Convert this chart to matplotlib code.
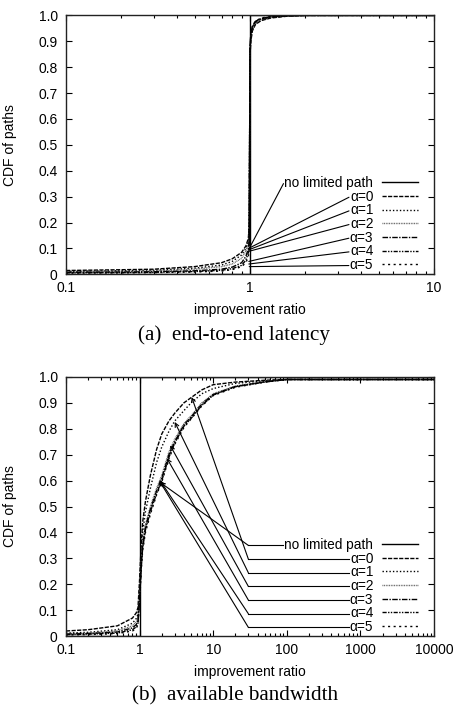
import matplotlib
matplotlib.use("Agg")
import matplotlib.pyplot as plt
from matplotlib.ticker import FixedLocator, LogLocator, NullFormatter

plt.rcParams['font.family'] = ['Liberation Sans', 'DejaVu Sans']

# ========== data: (a) end-to-end latency ==========
lat_x = [0.1, 0.2, 0.3, 0.5, 0.7, 0.8, 0.9, 0.95, 0.98, 0.99, 1.0, 1.01,
         1.03, 1.07, 1.15, 1.3, 1.6, 2.0, 3.0, 10.0]
lat_nolimit_x = [0.1, 1.0, 1.0, 10.0]
lat_nolimit_y = [0.0, 0.0, 1.0, 1.0]
lat_a0 = [0.015, 0.018, 0.02, 0.03, 0.045, 0.06, 0.085, 0.11, 0.14, 0.2, 0.84, 0.9,
          0.94, 0.965, 0.98, 0.99, 0.997, 1.0, 1.0, 1.0]
lat_a1 = [0.012, 0.014, 0.016, 0.024, 0.036, 0.05, 0.075, 0.1, 0.13, 0.18, 0.85, 0.91,
          0.945, 0.968, 0.982, 0.992, 0.998, 1.0, 1.0, 1.0]
lat_a2 = [0.01, 0.012, 0.013, 0.02, 0.03, 0.04, 0.062, 0.09, 0.12, 0.16, 0.86, 0.915,
          0.95, 0.97, 0.985, 0.993, 0.998, 1.0, 1.0, 1.0]
lat_a3 = [0.008, 0.009, 0.01, 0.014, 0.02, 0.028, 0.045, 0.07, 0.1, 0.13, 0.87, 0.92,
          0.955, 0.975, 0.987, 0.994, 0.998, 1.0, 1.0, 1.0]
lat_a4 = [0.006, 0.007, 0.008, 0.011, 0.016, 0.022, 0.035, 0.055, 0.085, 0.11, 0.88, 0.925,
          0.958, 0.977, 0.988, 0.995, 0.999, 1.0, 1.0, 1.0]
lat_a5 = [0.005, 0.006, 0.007, 0.009, 0.013, 0.018, 0.03, 0.045, 0.07, 0.1, 0.88, 0.93,
          0.96, 0.978, 0.99, 0.996, 0.999, 1.0, 1.0, 1.0]
# where each label line touches the curves
lat_targets = [(0.99, 0.10), (0.98, 0.10), (0.985, 0.095), (0.985, 0.089),
               (0.985, 0.05), (0.985, 0.04), (0.99, 0.03)]

# ========== data: (b) available bandwidth ==========
bw_x = [0.1, 0.2, 0.5, 0.8, 0.9, 0.95, 1.0, 1.05, 1.1, 1.2, 1.4, 1.7, 2.0, 2.5,
        3.0, 4.0, 5.0, 7.0, 10.0, 20.0, 50.0, 100.0, 1000.0, 10000.0]
bw_nolimit_x = [0.1, 1.0, 1.0, 10000.0]
bw_nolimit_y = [0.0, 0.0, 1.0, 1.0]
bw_a0 = [0.02, 0.025, 0.04, 0.07, 0.09, 0.11, 0.22, 0.35, 0.44, 0.52, 0.62, 0.72, 0.78, 0.83,
         0.86, 0.9, 0.92, 0.95, 0.97, 0.98, 0.987, 0.99, 0.99, 0.99]
bw_a1 = [0.012, 0.015, 0.025, 0.05, 0.068, 0.085, 0.18, 0.31, 0.4, 0.48, 0.57, 0.67, 0.73, 0.79,
         0.83, 0.87, 0.9, 0.935, 0.955, 0.975, 0.985, 0.99, 0.99, 0.99]
bw_a2 = [0.01, 0.012, 0.02, 0.04, 0.055, 0.07, 0.16, 0.28, 0.36, 0.43, 0.5, 0.57, 0.62, 0.71,
         0.76, 0.82, 0.85, 0.9, 0.935, 0.965, 0.982, 0.99, 0.99, 0.99]
bw_a3 = [0.008, 0.01, 0.016, 0.032, 0.045, 0.06, 0.15, 0.27, 0.35, 0.42, 0.49, 0.56, 0.61, 0.7,
         0.75, 0.815, 0.845, 0.895, 0.932, 0.963, 0.981, 0.99, 0.99, 0.99]
bw_a4 = [0.006, 0.008, 0.012, 0.025, 0.036, 0.05, 0.14, 0.26, 0.34, 0.41, 0.48, 0.55, 0.6, 0.69,
         0.745, 0.81, 0.84, 0.89, 0.93, 0.962, 0.98, 0.99, 0.99, 0.99]
bw_a5 = [0.005, 0.006, 0.01, 0.02, 0.03, 0.045, 0.13, 0.25, 0.33, 0.4, 0.47, 0.545, 0.595, 0.685,
         0.74, 0.805, 0.838, 0.888, 0.928, 0.96, 0.98, 0.99, 0.99, 0.99]
bw_targets = [(1.9, 0.593), (5.1, 0.922), (3.0, 0.826), (2.6, 0.736),
              (2.35, 0.686), (1.9, 0.60), (1.85, 0.60)]
bw_elbow_x = 30.0

labels = ["no limited path", "α=0", "α=1", "α=2", "α=3", "α=4", "α=5"]
styles = ['-', (0, (3, 1)), (0, (1, 1.5)), (0, (0.6, 0.6)), (0, (4, 1, 1, 1)),
          (0, (3, 1, 1, 1, 1, 1)), (0, (1.5, 2.5))]
colors = ['black', 'black', 'black', '#555555', 'black', 'black', 'black']

fig = plt.figure(figsize=(4.54, 7.09), dpi=100)
ax1 = fig.add_axes([0.1454, 0.613, 0.8106, 0.3653])
ax2 = fig.add_axes([0.1454, 0.1027, 0.8106, 0.3657])


def setup(ax, xmax, xticks, xticklabels):
    ax.set_xscale('log')
    ax.set_xlim(0.1, xmax)
    ax.set_ylim(0, 1.0)
    ax.xaxis.set_major_locator(FixedLocator(xticks))
    ax.set_xticklabels(xticklabels)
    ax.xaxis.set_minor_locator(LogLocator(base=10, subs=range(2, 10), numticks=20))
    ax.xaxis.set_minor_formatter(NullFormatter())
    yt = [i / 10 for i in range(11)]
    ax.set_yticks(yt)
    ax.set_yticklabels(["0"] + ["%.1f" % v for v in yt[1:]])
    ax.tick_params(which='both', direction='in', top=True, right=True,
                   labelsize=10, width=0.8)
    ax.tick_params(axis='x', pad=5)
    ax.tick_params(axis='y', pad=6)
    ax.tick_params(which='major', length=4)
    ax.tick_params(which='minor', length=2.5)
    for s in ax.spines.values():
        s.set_linewidth(1.0)
        s.set_color('#222222')
    ax.set_xlabel("improvement ratio", fontsize=10, labelpad=5.5)
    ax.set_ylabel("CDF of paths", fontsize=10, labelpad=15)


def draw_series(ax, nx, ny, xs, series):
    handles = []
    h, = ax.plot(nx, ny, color='black', lw=1.0, ls='-')
    handles.append(h)
    for ys, ls, c in zip(series, styles[1:], colors[1:]):
        h, = ax.plot(xs, ys, color=c, lw=1.0, ls=ls)
        handles.append(h)
    leg = ax.legend(handles, labels, loc='lower right', markerfirst=False, frameon=False,
                    fontsize=9.8, handlelength=2.7, handletextpad=0.6, labelspacing=-0.025,
                    borderaxespad=0.0, bbox_to_anchor=(0.972, -0.012))
    return leg


setup(ax1, 10, [0.1, 1, 10], ["0.1", "1", "10"])
setup(ax2, 10000, [0.1, 1, 10, 100, 1000, 10000],
      ["0.1", "1", "10", "100", "1000", "10000"])

leg1 = draw_series(ax1, lat_nolimit_x, lat_nolimit_y, lat_x,
                   [lat_a0, lat_a1, lat_a2, lat_a3, lat_a4, lat_a5])
leg2 = draw_series(ax2, bw_nolimit_x, bw_nolimit_y, bw_x,
                   [bw_a0, bw_a1, bw_a2, bw_a3, bw_a4, bw_a5])

fig.canvas.draw()
renderer = fig.canvas.get_renderer()


def text_anchor(ax, t):
    bb = t.get_window_extent(renderer)
    return ax.transData.inverted().transform((bb.x0 - 1, (bb.y0 + bb.y1) / 2 - 0.5))


# label lines in (a): plain lines to the curves
for t, tgt in zip(leg1.get_texts(), lat_targets):
    sx, sy = text_anchor(ax1, t)
    ax1.annotate('', xy=tgt, xytext=(sx, sy),
                 arrowprops=dict(arrowstyle='-', color='black', lw=0.8,
                                 shrinkA=0, shrinkB=0))

# label lines in (b): elbow then arrow
for t, tgt in zip(leg2.get_texts(), bw_targets):
    sx, sy = text_anchor(ax2, t)
    ax2.plot([sx, bw_elbow_x], [sy, sy], color='black', lw=0.8)
    ax2.annotate('', xy=tgt, xytext=(bw_elbow_x, sy),
                 arrowprops=dict(arrowstyle='->', color='black', lw=0.8,
                                 shrinkA=0, shrinkB=0, mutation_scale=7))

fig.text(0.515, 1 - 335 / 709, "(a)  end-to-end latency", ha='center', va='center',
         family=['Liberation Serif', 'DejaVu Serif'], fontsize=15.2)
fig.text(0.517, 1 - 696 / 709, "(b)  available bandwidth", ha='center', va='center',
         family=['Liberation Serif', 'DejaVu Serif'], fontsize=15.2)

fig.savefig("out.png", dpi=100)
